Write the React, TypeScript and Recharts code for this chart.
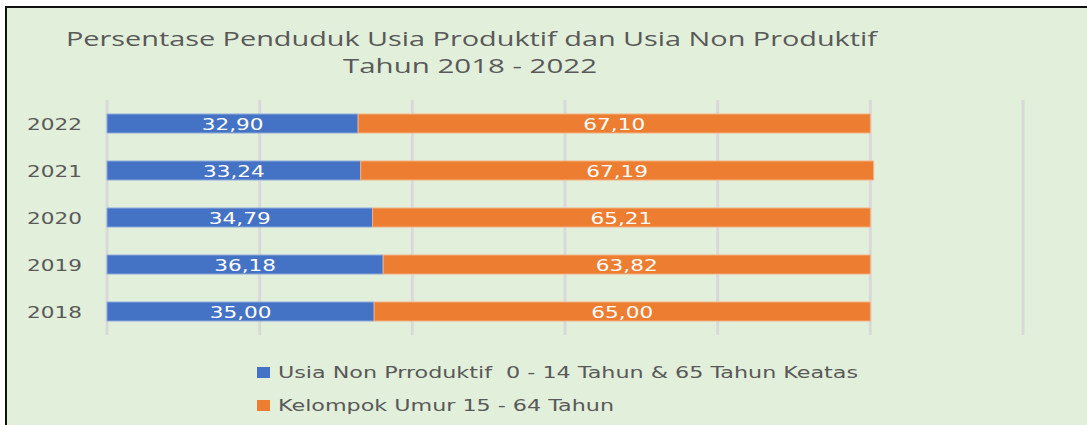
import React from "react";
import { BarChart, Bar, XAxis, YAxis, CartesianGrid, LabelList } from "recharts";

const years = ["2018", "2019", "2020", "2021", "2022"];
const nonProduktif = [35.0, 36.18, 34.79, 33.24, 32.9];
const produktif = [65.0, 63.82, 65.21, 67.19, 67.1];
const xTicks = [0, 20, 40, 60, 80, 100, 120];

const seriesNames = [
  "Usia Non Prroduktif  0 - 14 Tahun & 65 Tahun Keatas",
  "Kelompok Umur 15 - 64 Tahun",
];
const titleLines = [
  "Persentase Penduduk Usia Produktif dan Usia Non Produktif",
  "Tahun 2018 - 2022",
];

const data = years.map((y, i) => ({
  year: y,
  nonProduktif: nonProduktif[i],
  produktif: produktif[i],
}));

const BLUE = "#4472C4";
const ORANGE = "#ED7D31";
const TEXT = "#595959";
const FONT = "'DejaVu Sans', Verdana, sans-serif";
const TITLE_FONT = "'Open Sans', 'Noto Sans', sans-serif";
const STRETCH = 1.35;

const fmt = (v: number) => v.toFixed(2).replace(".", ",");

// eslint-disable-next-line @typescript-eslint/no-explicit-any
const YearTick = (props: any) => {
  const { x, y, payload } = props;
  return (
    <g transform={`translate(${x},${y}) scale(${STRETCH},1)`}>
      <text x={0} y={0} dy={6} textAnchor="end" fill={TEXT} fontSize={16} fontFamily={FONT}>
        {payload.value}
      </text>
    </g>
  );
};

// eslint-disable-next-line @typescript-eslint/no-explicit-any
const ValueLabel = (props: any) => {
  const { x, y, width, height, value } = props;
  const cx = x + width / 2;
  const cy = y + height / 2;
  return (
    <g transform={`translate(${cx},${cy}) scale(${STRETCH},1)`}>
      <text x={0} y={0} dy={6} textAnchor="middle" fill="#FFFFFF" fontSize={16} fontFamily={FONT}>
        {fmt(value)}
      </text>
    </g>
  );
};

export default function App() {
  return (
    <div
      style={{
        position: "absolute",
        left: 0,
        top: 0,
        width: 1087,
        height: 425,
        background: "#FFFFFF",
        overflow: "hidden",
      }}
    >
      <div
        style={{
          position: "absolute",
          left: 5,
          top: 6,
          width: 1100,
          height: 440,
          borderLeft: "2px solid #111",
          borderTop: "2px solid #111",
          background: "#E2EFDA",
        }}
      />
      <div style={{ position: "absolute", left: 0, top: 0 }}>
        <BarChart
          width={1087}
          height={425}
          data={data}
          layout="vertical"
          barSize={19}
          margin={{ top: 100, right: 64, left: 0, bottom: 90 }}
        >
          <CartesianGrid horizontal={false} stroke="#D9D9D9" strokeWidth={3} />
          <XAxis type="number" domain={[0, 120]} ticks={xTicks} hide />
          <YAxis
            type="category"
            dataKey="year"
            reversed
            width={107}
            axisLine={false}
            tickLine={false}
            tickSize={0}
            tickMargin={25}
            tick={<YearTick />}
          />
          <Bar
            dataKey="nonProduktif"
            stackId="a"
            fill={BLUE}
            stroke="#8FAADC"
            strokeWidth={1}
            name={seriesNames[0]}
            isAnimationActive={false}
          >
            <LabelList dataKey="nonProduktif" content={<ValueLabel />} />
          </Bar>
          <Bar
            dataKey="produktif"
            stackId="a"
            fill={ORANGE}
            stroke="#F4B183"
            strokeWidth={1}
            name={seriesNames[1]}
            isAnimationActive={false}
          >
            <LabelList dataKey="produktif" content={<ValueLabel />} />
          </Bar>
        </BarChart>
      </div>
      <svg
        width={1087}
        height={425}
        style={{ position: "absolute", left: 0, top: 0, pointerEvents: "none" }}
      >
        <text
          x={66}
          y={46}
          fontSize={20}
          fill={TEXT}
          fontFamily={TITLE_FONT}
          textLength={811}
          lengthAdjust="spacingAndGlyphs"
        >
          {titleLines[0]}
        </text>
        <text
          x={343}
          y={73}
          fontSize={20}
          fill={TEXT}
          fontFamily={TITLE_FONT}
          textLength={254}
          lengthAdjust="spacingAndGlyphs"
        >
          {titleLines[1]}
        </text>
        <rect x={257} y={367} width={13} height={11} fill={BLUE} />
        <text
          x={278}
          y={378}
          fontSize={16}
          fill={TEXT}
          fontFamily={FONT}
          textLength={580}
          lengthAdjust="spacingAndGlyphs"
          style={{ whiteSpace: "pre" }}
        >
          {seriesNames[0]}
        </text>
        <rect x={257} y={400} width={13} height={11} fill={ORANGE} />
        <text
          x={278}
          y={411}
          fontSize={16}
          fill={TEXT}
          fontFamily={FONT}
          textLength={336}
          lengthAdjust="spacingAndGlyphs"
        >
          {seriesNames[1]}
        </text>
      </svg>
    </div>
  );
}
